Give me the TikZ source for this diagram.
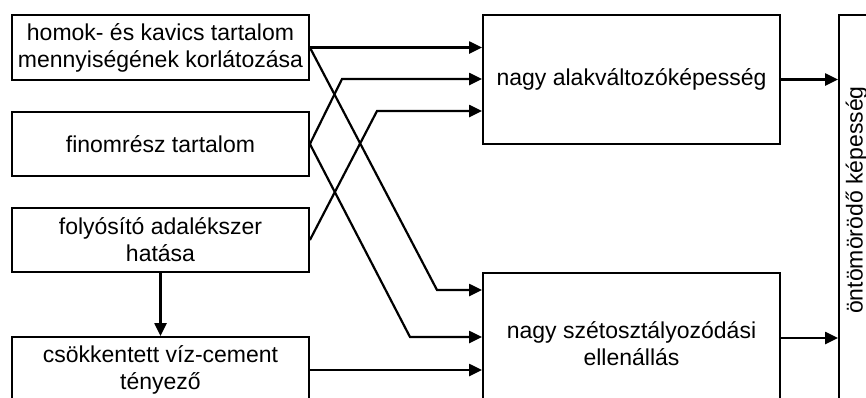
\documentclass[tikz,border=0pt]{standalone}
\usepackage{fontspec}
\setmainfont{Liberation Sans}
\usetikzlibrary{arrows.meta}
\tikzset{
  every picture/.style={
    line join=miter,
    >={Triangle[length=13pt,width=12pt]},   % one arrow tip everywhere
  },
  box/.style={draw, line width=1.8pt, align=center, inner sep=0pt,
    font=\fontsize{23}{27}\selectfont},
  link/.style={->, line width=2.2pt},
}

\begin{document}
\begin{tikzpicture}[x=1pt, y=-1pt]
    \useasboundingbox (0,0) rectangle (866,397);

    % Left column
    \node[box, minimum width=297pt, minimum height=65pt] (homok) at (160.5,47.5)
        {homok- és kavics tartalom\\mennyiségének korlátozása};
    \node[box, minimum width=297pt, minimum height=64pt] (finom) at (160.5,144)
        {finomrész tartalom};
    \node[box, minimum width=297pt, minimum height=64pt] (folyo) at (160.5,240)
        {folyósító adalékszer\\hatása};
    \node[box, minimum width=297pt, minimum height=66pt] (csokk) at (160.5,370)
        {csökkentett víz-cement\\tényező};

    % Middle column
    \node[box, minimum width=297pt, minimum height=129pt] (alak) at (631.5,79.5)
        {nagy alakváltozóképesség};
    \node[box, minimum width=297pt, minimum height=141pt] (szet) at (631.5,343.5)
        {nagy szétosztályozódási\\ellenállás};

    % Right column (box runs off the page)
    \node[box, minimum width=41pt, minimum height=386pt] (ontom) at (859.5,208) {};
    \node[rotate=90, inner sep=0pt, font=\fontsize{23}{27}\selectfont] (ontomtext) at (856.5,200)
        {öntömörödő képesség};

    % Bends of the crossing links
    \coordinate (k1) at (437,290);
    \coordinate (k2) at (342,79);
    \coordinate (k3) at (410,337);
    \coordinate (k4) at (377,111);

    % Links into the middle column
    \draw[link] (homok.east) -- (homok.east -| alak.west);
    \draw[link] (homok.east) -- (k1) -- (k1 -| szet.west);
    \draw[link] (finom.east) -- (k2) -- (k2 -| alak.west);
    \draw[link] (finom.east) -- (k3) -- (k3 -| szet.west);
    \draw[link] (folyo.east) -- (k4) -- (k4 -| alak.west);
    \draw[link] (csokk.east) -- (csokk.east -| szet.west);
    \draw[link] (folyo.south) -- (csokk.north);

    % Links into the right column
    \draw[link] (alak.east) -- (alak.east -| ontom.west);
    \draw[link] ([yshift=5.5pt]szet.east) -- ([yshift=5.5pt]szet.east -| ontom.west);
\end{tikzpicture}
\end{document}
